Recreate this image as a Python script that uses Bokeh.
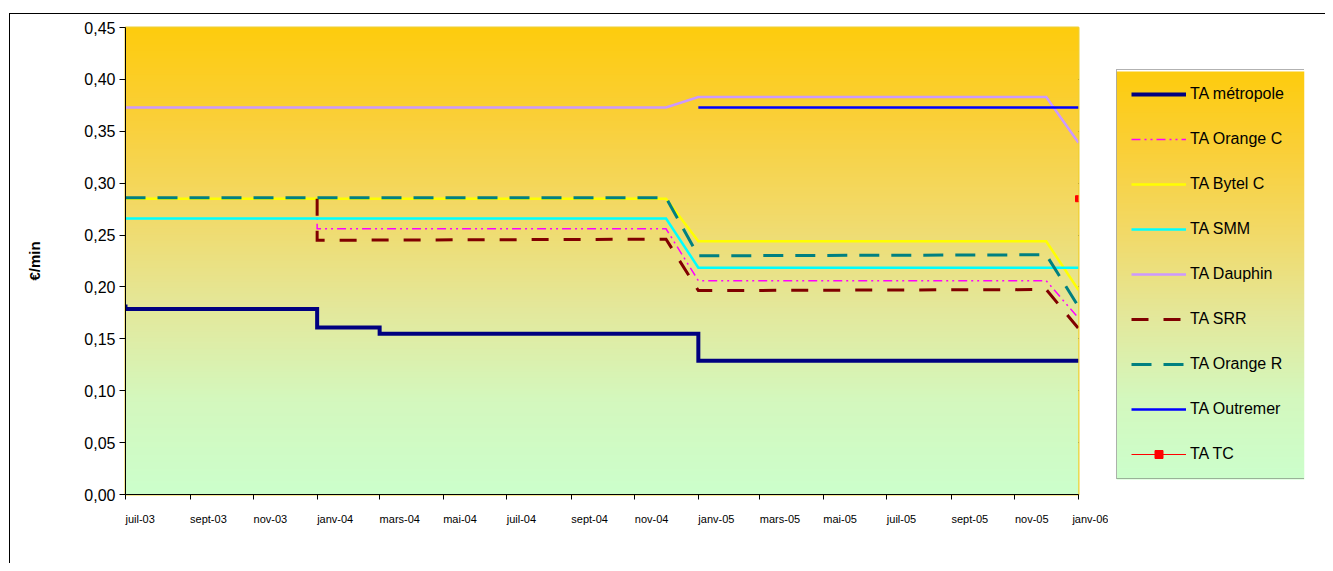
import numpy as np
import pandas as pd
from bokeh.plotting import figure
from bokeh.layouts import row
from bokeh.models import FixedTicker, Range1d, Legend, LegendItem
from bokeh.embed import file_html
from bokeh.resources import INLINE

# ---------------- data ----------------
x_start = "2003-07-01"
x_end = "2006-01-01"
x_tick_dates = ["2003-07-01", "2003-09-01", "2003-11-01", "2004-01-01", "2004-03-01",
                "2004-05-01", "2004-07-01", "2004-09-01", "2004-11-01", "2005-01-01",
                "2005-03-01", "2005-05-01", "2005-07-01", "2005-09-01", "2005-11-01",
                "2006-01-01"]
x_tick_labels = ["juil-03", "sept-03", "nov-03", "janv-04", "mars-04", "mai-04",
                 "juil-04", "sept-04", "nov-04", "janv-05", "mars-05", "mai-05",
                 "juil-05", "sept-05", "nov-05", "janv-06"]
y_ticks = [0.0, 0.05, 0.1, 0.15, 0.2, 0.25, 0.3, 0.35, 0.4, 0.45]
y_tick_labels = ["0,00", "0,05", "0,10", "0,15", "0,20", "0,25", "0,30", "0,35",
                 "0,40", "0,45"]
y_grid_ticks = [0.05, 0.1, 0.15, 0.2, 0.25, 0.3, 0.35, 0.4]

series_names = ["TA métropole", "TA Orange C", "TA Bytel C", "TA SMM", "TA Dauphin",
                "TA SRR", "TA Orange R", "TA Outremer", "TA TC"]

metro_dates = ["2003-07-01", "2003-07-01", "2004-01-01", "2004-01-01", "2004-03-01",
               "2004-03-01", "2005-01-01", "2005-01-01", "2006-01-01"]
metro_vals = [0.183, 0.1788, 0.1788, 0.161, 0.161, 0.155, 0.155, 0.129, 0.129]

orange_c_dates = ["2004-01-01", "2004-01-01", "2004-12-01", "2005-01-01", "2005-12-01",
                  "2006-01-01"]
orange_c_vals = [0.285, 0.256, 0.256, 0.206, 0.206, 0.170]

bytel_c_dates = ["2003-07-01", "2004-12-01", "2005-01-01", "2005-12-01", "2006-01-01"]
bytel_c_vals = [0.285, 0.285, 0.244, 0.244, 0.197]

smm_dates = ["2003-07-01", "2004-12-01", "2005-01-01", "2006-01-01"]
smm_vals = [0.266, 0.266, 0.2185, 0.2185]

dauphin_dates = ["2003-07-01", "2004-12-01", "2005-01-01", "2005-12-01", "2006-01-01"]
dauphin_vals = [0.373, 0.373, 0.383, 0.383, 0.339]

srr_dates = ["2004-01-01", "2004-01-01", "2004-12-01", "2005-01-01", "2005-12-01",
             "2006-01-01"]
srr_vals = [0.285, 0.245, 0.246, 0.1965, 0.1975, 0.160]

orange_r_dates = ["2003-07-01", "2004-12-01", "2005-01-01", "2005-12-01", "2006-01-01"]
orange_r_vals = [0.286, 0.286, 0.230, 0.231, 0.181]

outremer_dates = ["2005-01-01", "2006-01-01"]
outremer_vals = [0.373, 0.373]

tc_dates = ["2006-01-01"]
tc_vals = [0.285]

# ---------------- helpers ----------------
FONT = "Liberation Sans"
FRAME_W, FRAME_H = 953, 467
LEG_W, LEG_H, LEG_BOTTOM = 188, 408, 15


def ms(d):
    return pd.Timestamp(d).value / 1e6


def gradient(n):
    # colour stops from top (t=0) to bottom (t=1)
    ts = [0.0, 0.2, 0.4, 0.6, 0.8, 1.0]
    cols = [(254, 204, 14), (250, 208, 58), (242, 218, 105), (228, 232, 155),
            (212, 248, 190), (204, 255, 204)]
    img = np.empty((n, 2), dtype=np.uint32)
    view = img.view(dtype=np.uint8).reshape((n, 2, 4))
    for i in range(n):
        t = 1.0 - (i + 0.5) / n  # row 0 is bottom
        for k in range(3):
            view[i, :, k] = int(np.interp(t, ts, [c[k] for c in cols]))
        view[i, :, 3] = 255
    return img


# ---------------- main plot ----------------
x0, x1 = ms(x_start), ms(x_end)
pA = figure(x_axis_type="datetime", x_range=Range1d(x0, x1), y_range=Range1d(0, 0.45),
            frame_width=FRAME_W, frame_height=FRAME_H,
            min_border_left=115, min_border_right=30, min_border_top=13,
            min_border_bottom=69, output_backend="svg", toolbar_location=None)
pA.border_fill_color = "white"
pA.outline_line_color = "#F0D030"
pA.outline_line_width = 2

pA.image_rgba(image=[gradient(300)], x=x0, y=0, dw=x1 - x0, dh=0.45)

styles = [
    dict(color="#000080", width=4, dash="solid"),
    dict(color="#FF00FF", width=1.5, dash="9 4 2 4 2 4"),
    dict(color="#FFFF00", width=2.5, dash="solid"),
    dict(color="#00FFFF", width=2.5, dash="solid"),
    dict(color="#CC99FF", width=2.5, dash="solid"),
    dict(color="#800000", width=3, dash="17 15"),
    dict(color="#008080", width=3, dash="20 12"),
    dict(color="#0000FF", width=2.5, dash="solid"),
    dict(color="#FF0000", width=1, dash="solid"),
]
all_dates = [metro_dates, orange_c_dates, bytel_c_dates, smm_dates, dauphin_dates,
             srr_dates, orange_r_dates, outremer_dates, tc_dates]
all_vals = [metro_vals, orange_c_vals, bytel_c_vals, smm_vals, dauphin_vals,
            srr_vals, orange_r_vals, outremer_vals, tc_vals]

for dates, vals, st in zip(all_dates, all_vals, styles):
    xs = [ms(d) for d in dates]
    pA.line(x=xs, y=vals, line_color=st["color"], line_width=st["width"],
            line_dash=st["dash"], line_join="miter")
pA.scatter(x=[ms(d) for d in tc_dates], y=tc_vals, marker="square", size=6,
           fill_color="#FF0000", line_color="#FF0000")

# x axis: labels start at their tick (tiny negative angle -> left aligned)
x_tick_ms = [ms(d) for d in x_tick_dates]
pA.xaxis.ticker = FixedTicker(ticks=x_tick_ms)
pA.xaxis.major_label_overrides = dict(zip(x_tick_ms, x_tick_labels))
pA.xaxis.major_label_orientation = -0.0001
pA.xaxis.major_label_text_font = FONT
pA.xaxis.major_label_text_font_size = "11px"
pA.xaxis.major_label_text_color = "black"
pA.xaxis.major_label_standoff = 19
pA.xaxis.major_tick_out = 5
pA.xaxis.major_tick_in = 0
pA.xaxis.minor_tick_out = 0
pA.xaxis.minor_tick_in = 0
pA.xaxis.axis_line_color = "black"
pA.xaxis.major_tick_line_color = "black"

pA.yaxis.ticker = FixedTicker(ticks=y_ticks)
pA.yaxis.major_label_overrides = dict(zip(y_ticks, y_tick_labels))
pA.yaxis.major_label_text_font = FONT
pA.yaxis.major_label_text_font_size = "16px"
pA.yaxis.major_label_text_color = "black"
pA.yaxis.major_label_standoff = 4
pA.yaxis.major_tick_out = 6
pA.yaxis.major_tick_in = 0
pA.yaxis.minor_tick_out = 0
pA.yaxis.minor_tick_in = 0
pA.yaxis.axis_line_color = "black"
pA.yaxis.major_tick_line_color = "black"
pA.yaxis.axis_label = "€/min"
pA.yaxis.axis_label_text_font = FONT
pA.yaxis.axis_label_text_font_size = "15px"
pA.yaxis.axis_label_text_font_style = "bold"
pA.yaxis.axis_label_text_color = "black"
pA.yaxis.axis_label_standoff = 38

pA.xgrid.grid_line_color = None
pA.ygrid.ticker = FixedTicker(ticks=y_grid_ticks)
pA.ygrid.grid_line_color = "black"
pA.ygrid.grid_line_width = 1

# ---------------- legend panel ----------------
pB = figure(x_range=Range1d(0, 1), y_range=Range1d(0, 1), x_axis_type=None,
            y_axis_type=None, frame_width=LEG_W, frame_height=FRAME_H,
            min_border_left=8, min_border_right=21, min_border_top=13,
            min_border_bottom=69, output_backend="svg", toolbar_location=None)
pB.border_fill_color = "white"
pB.background_fill_color = "white"
pB.outline_line_color = None
pB.image_rgba(image=[gradient(300)], x=0, y=LEG_BOTTOM / FRAME_H, dw=1,
              dh=LEG_H / FRAME_H)

items = []
for name, st in zip(series_names, styles):
    r = pB.line(x=np.array([np.nan]), y=np.array([np.nan]), line_color=st["color"],
                line_width=st["width"], line_dash=st["dash"])
    rs = [r]
    if name == "TA TC":
        rs.append(pB.scatter(x=np.array([np.nan]), y=np.array([np.nan]),
                             marker="square", size=6,
                             fill_color="#FF0000", line_color="#FF0000"))
    items.append(LegendItem(label=name, renderers=rs))

legend = Legend(items=items, location=(0, LEG_BOTTOM), glyph_width=55, glyph_height=20,
                label_height=20, label_width=101, spacing=25, padding=14, margin=0,
                border_line_color="#666666", border_line_width=1.5,
                background_fill_alpha=0,
                label_text_font=FONT, label_text_font_size="16px",
                label_text_color="black", label_standoff=4)
pB.add_layout(legend)

layout = row(pA, pB, styles={"border-left": "1px solid black",
                             "border-top": "1px solid black",
                             "margin-left": "9px", "margin-top": "13px"})

open("out.html", "w").write(file_html(layout, INLINE))
